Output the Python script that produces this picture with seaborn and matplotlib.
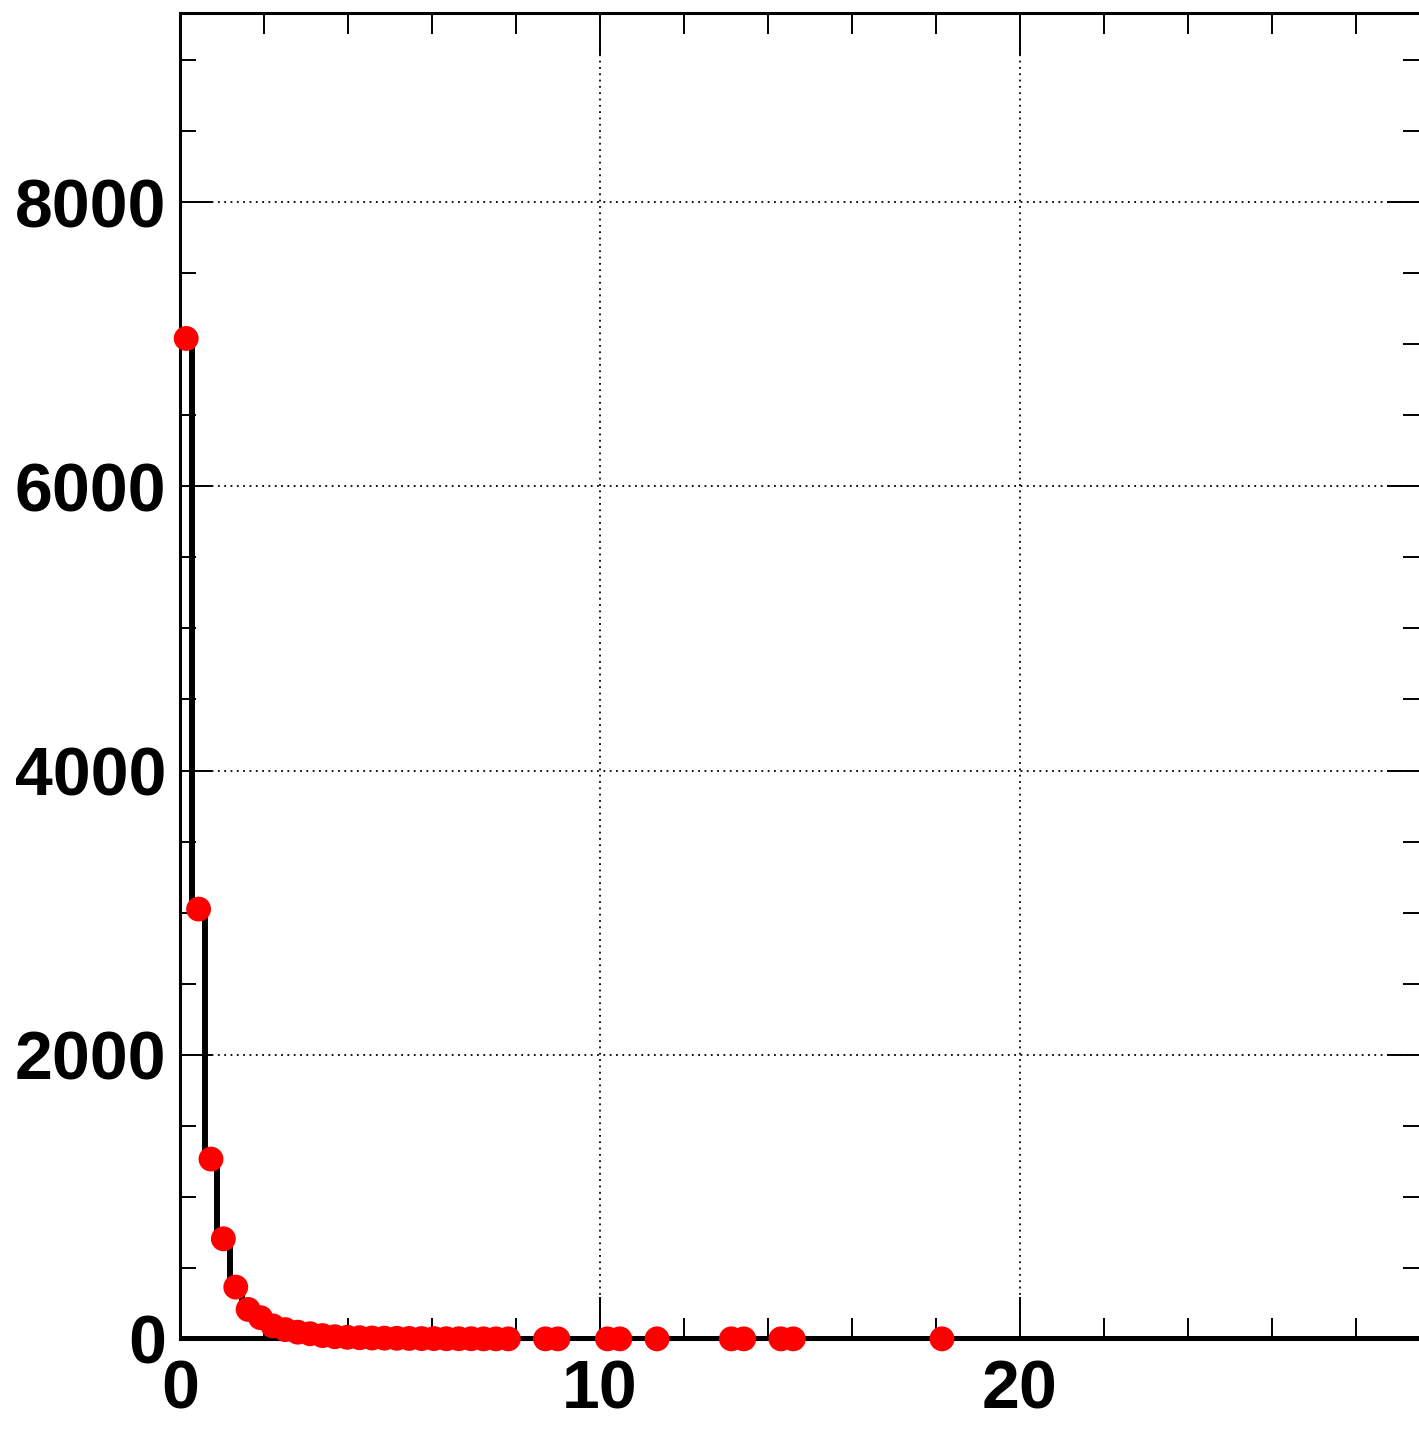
import numpy as np
import pandas as pd
import matplotlib
matplotlib.use("Agg")
import matplotlib.pyplot as plt
import seaborn as sns
from matplotlib.ticker import MultipleLocator

# 100 bins from 0 to 29.5
n_bins = 100
x_max = 29.5
y_max = 9330

# non-empty bins (index) and their contents
filled_bins = list(range(27)) + [29, 30, 34, 35, 38, 44, 45, 48, 49, 61]
counts = [7040, 3025, 1266, 705, 365, 208, 150, 92, 66, 48, 37, 24, 16, 12,
          9, 7, 6, 5, 4, 3, 3, 2, 2, 2, 1, 1, 1,
          1, 1, 1, 1, 1, 1, 1, 1, 1, 1]

edges = np.linspace(0, x_max, n_bins + 1)
centers = (edges[:-1] + edges[1:]) / 2
df = pd.DataFrame({'x': centers[filled_bins], 'n': counts})

sns.set_style("ticks")
plt.rcParams['font.family'] = ['Liberation Sans', 'DejaVu Sans']
plt.rcParams['font.weight'] = 'bold'

fig = plt.figure(figsize=(14.19, 14.30), dpi=100)
ax = fig.add_axes([180 / 1419, 91 / 1430, 1239 / 1419, 1326 / 1430])

# histogram outline
sns.histplot(data=df, x='x', weights='n', bins=n_bins, binrange=(0, x_max),
             element='step', fill=False, color='black', linewidth=4.3, ax=ax)
ax.plot([0, x_max], [0, 0], color='black', lw=4.3, zorder=2)
# points
sns.scatterplot(data=df, x='x', y='n', color='red', s=320, edgecolor='none',
                zorder=5, ax=ax, clip_on=False)

ax.set_xlim(0, x_max)
ax.set_ylim(0, y_max)
ax.xaxis.set_major_locator(MultipleLocator(10))
ax.xaxis.set_minor_locator(MultipleLocator(2))
ax.yaxis.set_major_locator(MultipleLocator(2000))
ax.yaxis.set_minor_locator(MultipleLocator(500))

ax.grid(True, which='major', color='black', linestyle=(0, (1, 2.5)), linewidth=1.3)
ax.set_axisbelow(True)

ax.tick_params(axis='both', which='both', direction='in', top=True, right=True,
               width=1.4, color='black', labelcolor='black', labelsize=49)
ax.tick_params(axis='x', which='major', length=30, pad=14)
ax.tick_params(axis='x', which='minor', length=15)
ax.tick_params(axis='y', which='major', length=23, pad=10)
ax.tick_params(axis='y', which='minor', length=11.5)
for lab in ax.get_xticklabels() + ax.get_yticklabels():
    lab.set_fontweight('bold')

for side in ['left', 'bottom', 'top']:
    ax.spines[side].set_linewidth(2.2)
    ax.spines[side].set_color('black')
ax.spines['right'].set_visible(False)

ax.set_xlabel('')
ax.set_ylabel('')

fig.savefig('out.png', dpi=100)
